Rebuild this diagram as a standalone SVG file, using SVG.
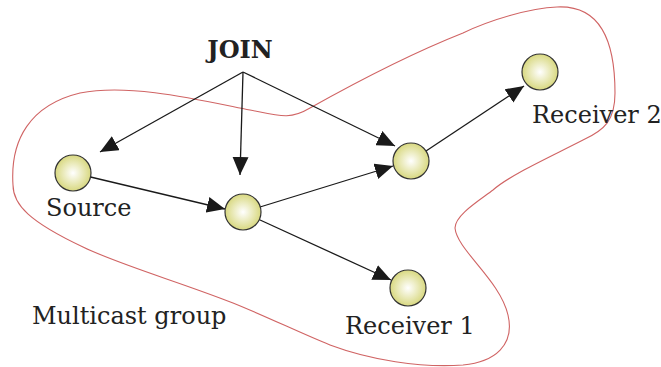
<svg xmlns="http://www.w3.org/2000/svg" width="661" height="367" viewBox="0 0 661 367">
<style>
.lbl{font-family:"DejaVu Serif","Liberation Serif",serif;font-size:24px;fill:#222}
.join{font-family:"DejaVu Serif","Liberation Serif",serif;font-size:24px;font-weight:bold;fill:#222}
.node{fill:url(#g);stroke:#333;stroke-width:1.2}
.edge{stroke:#1a1a1a;stroke-width:1.3;fill:none;marker-end:url(#ah)}
.blob{fill:none;stroke:#d06464;stroke-width:1.1}
</style>
<defs>
<radialGradient id="g" cx="0.5" cy="0.5" r="0.5">
<stop offset="0" stop-color="#ffffff"/>
<stop offset="1" stop-color="#d8d880"/>
</radialGradient>
<marker id="ah" markerUnits="userSpaceOnUse" markerWidth="20" markerHeight="16" refX="18" refY="8" orient="auto">
<path d="M0,0 L18,8 L0,16 Z" fill="#1a1a1a"/>
</marker>
</defs>
<path class="blob" d="M13,185 C10,140 30,105 80,93 C130,83 200,100 250,110 C280,116 290,120 310,108 C360,80 420,50 463,33 C490,20 530,8 557,7 C600,5 615,40 615,93 C615,120 605,130 583,140 C550,157 510,175 493,190 C480,200 455,215 455,228 C457,250 500,280 508,315 C515,345 495,362 463,365 C420,368 370,360 330,345 C300,333 270,318 233,303 C180,282 120,265 83,247 C30,222 13,205 13,185 Z"/>
<g id="connectors">
<line class="edge" x1="243" y1="72" x2="100" y2="152"/>
<line class="edge" x1="243" y1="72" x2="240" y2="175"/>
<line class="edge" x1="243" y1="72" x2="395" y2="146"/>
<line class="edge" x1="90.5" y1="177" x2="225" y2="209"/>
<line class="edge" x1="260" y1="207" x2="393" y2="166"/>
<line class="edge" x1="426" y1="151" x2="524" y2="86"/>
<line class="edge" x1="259" y1="219.5" x2="391" y2="280"/>
</g>
<g id="join"><text class="join" x="240" y="58" text-anchor="middle">JOIN</text></g>
<g id="source"><circle class="node" cx="73" cy="173" r="18"/><text class="lbl" x="46" y="216">Source</text></g>
<g id="middle"><circle class="node" cx="243" cy="212" r="18"/></g>
<g id="router"><circle class="node" cx="411" cy="161" r="18"/></g>
<g id="receiver2"><circle class="node" cx="540" cy="72" r="18"/><text class="lbl" x="532" y="123">Receiver 2</text></g>
<g id="receiver1"><circle class="node" cx="408" cy="288" r="18"/><text class="lbl" x="345" y="334">Receiver 1</text></g>
<g id="group"><text class="lbl" x="32" y="324">Multicast group</text></g>
</svg>
